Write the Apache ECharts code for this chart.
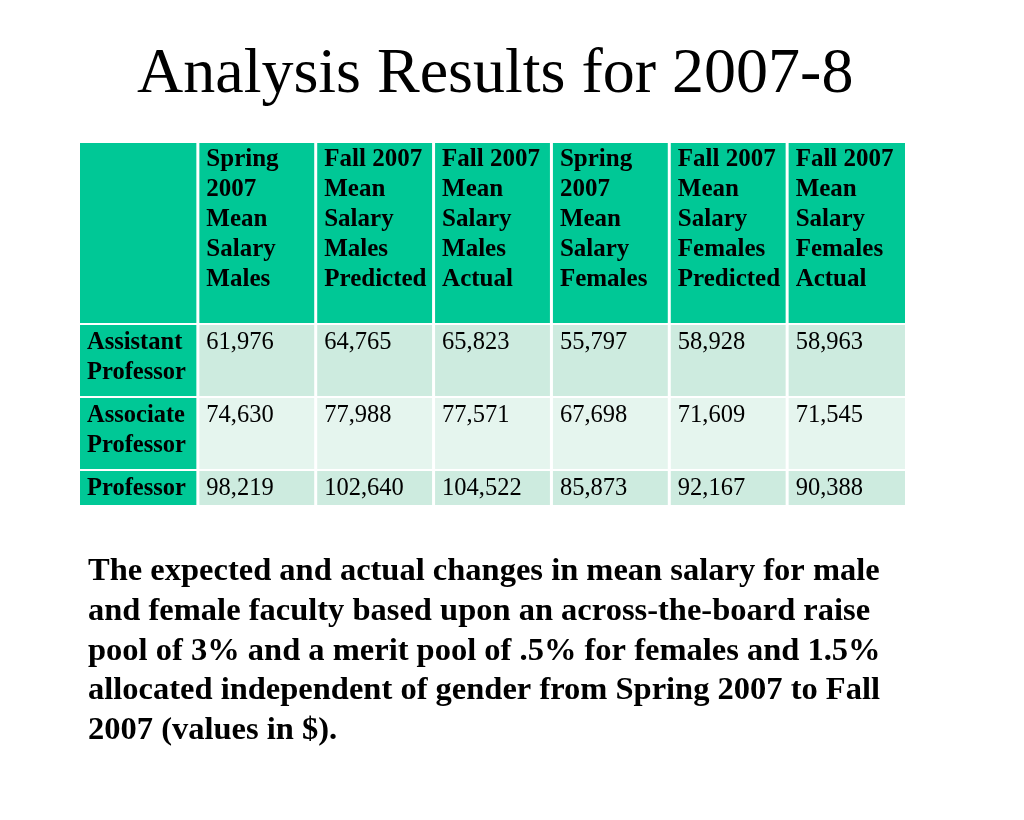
<!DOCTYPE html>
<html>
<head>
<meta charset="utf-8">
<script src="https://cdn.jsdelivr.net/npm/echarts@6/dist/echarts.min.js"></script>
<style>
  html, body { margin: 0; padding: 0; background: #fff; }
  #main { width: 1024px; height: 820px; }
</style>
</head>
<body>
<div id="main"></div>
<script>
var columnHeaders = ['', 'Spring\n2007\nMean\nSalary\nMales', 'Fall 2007\nMean\nSalary\nMales\nPredicted',
  'Fall 2007\nMean\nSalary\nMales\nActual', 'Spring\n2007\nMean\nSalary\nFemales',
  'Fall 2007\nMean\nSalary\nFemales\nPredicted', 'Fall 2007\nMean\nSalary\nFemales\nActual'];
var rankLabels = ['Assistant\nProfessor', 'Associate\nProfessor', 'Professor'];
var assistantVals = [61976, 64765, 65823, 55797, 58928, 58963];
var associateVals = [74630, 77988, 77571, 67698, 71609, 71545];
var professorVals = [98219, 102640, 104522, 85873, 92167, 90388];
// row edges on the table's vertical scale (header, then three ranks)
var rowEdges = [[0, 180], [182, 253], [255, 326], [328, 362]];

var caption = 'The expected and actual changes in mean salary for male\n' +
  'and female faculty based upon an across-the-board raise\n' +
  'pool of 3% and a merit pool of .5% for females and 1.5%\n' +
  'allocated independent of gender from Spring 2007 to Fall\n' +
  '2007 (values in $).';

var rows = [assistantVals, associateVals, professorVals];
var cells = [];
columnHeaders.forEach(function (h, c) { cells.push([c, 0, h]); });
rows.forEach(function (vals, r) {
  cells.push([0, r + 1, rankLabels[r]]);
  vals.forEach(function (v, c) { cells.push([c + 1, r + 1, v.toLocaleString('en-US')]); });
});

function cellColor(c, r) {
  if (r === 0 || c === 0) return '#00c896';
  return r === 2 ? '#e5f5ee' : '#cdebdf';
}

var chart = echarts.init(document.getElementById('main'));
chart.setOption({
  backgroundColor: '#fff',
  title: {
    text: 'Analysis Results for 2007-8',
    left: 132, top: 38,
    textStyle: { fontFamily: 'Liberation Serif', fontWeight: 'normal', fontSize: 64, color: '#000' }
  },
  grid: { left: 80, right: 119, top: 143, bottom: 315 },
  xAxis: { type: 'value', min: 0, max: 7, show: false },
  yAxis: { type: 'value', min: 0, max: 362, inverse: true, show: false },
  graphic: [{
    type: 'text', left: 88, top: 552,
    style: { text: caption, font: 'bold 32.5px "Liberation Serif"', lineHeight: 39.7, fill: '#000' }
  }],
  series: [{
    type: 'custom',
    data: cells,
    renderItem: function (params, api) {
      var c = api.value(0), r = api.value(1);
      var e = rowEdges[r];
      var p0 = api.coord([c, e[0]]), p1 = api.coord([c + 1, e[1]]);
      var x0 = p0[0] + (c === 0 ? 0 : 1.5), x1 = p1[0] - (c === 6 ? 0 : 1.5);
      var bold = r === 0 || c === 0;
      return {
        type: 'group',
        children: [{
          type: 'rect',
          shape: { x: x0, y: p0[1], width: x1 - x0, height: p1[1] - p0[1] },
          style: { fill: cellColor(c, r) }
        }, {
          type: 'text',
          x: x0 + 7, y: p0[1] + (r === 0 ? 2 : 3),
          style: {
            text: cells[params.dataIndex][2],
            font: (bold ? 'bold ' : '') + (r === 0 ? '25px' : '24.5px') + ' "Liberation Serif"',
            lineHeight: 30, fill: '#000'
          }
        }]
      };
    }
  }]
});
</script>
</body>
</html>
